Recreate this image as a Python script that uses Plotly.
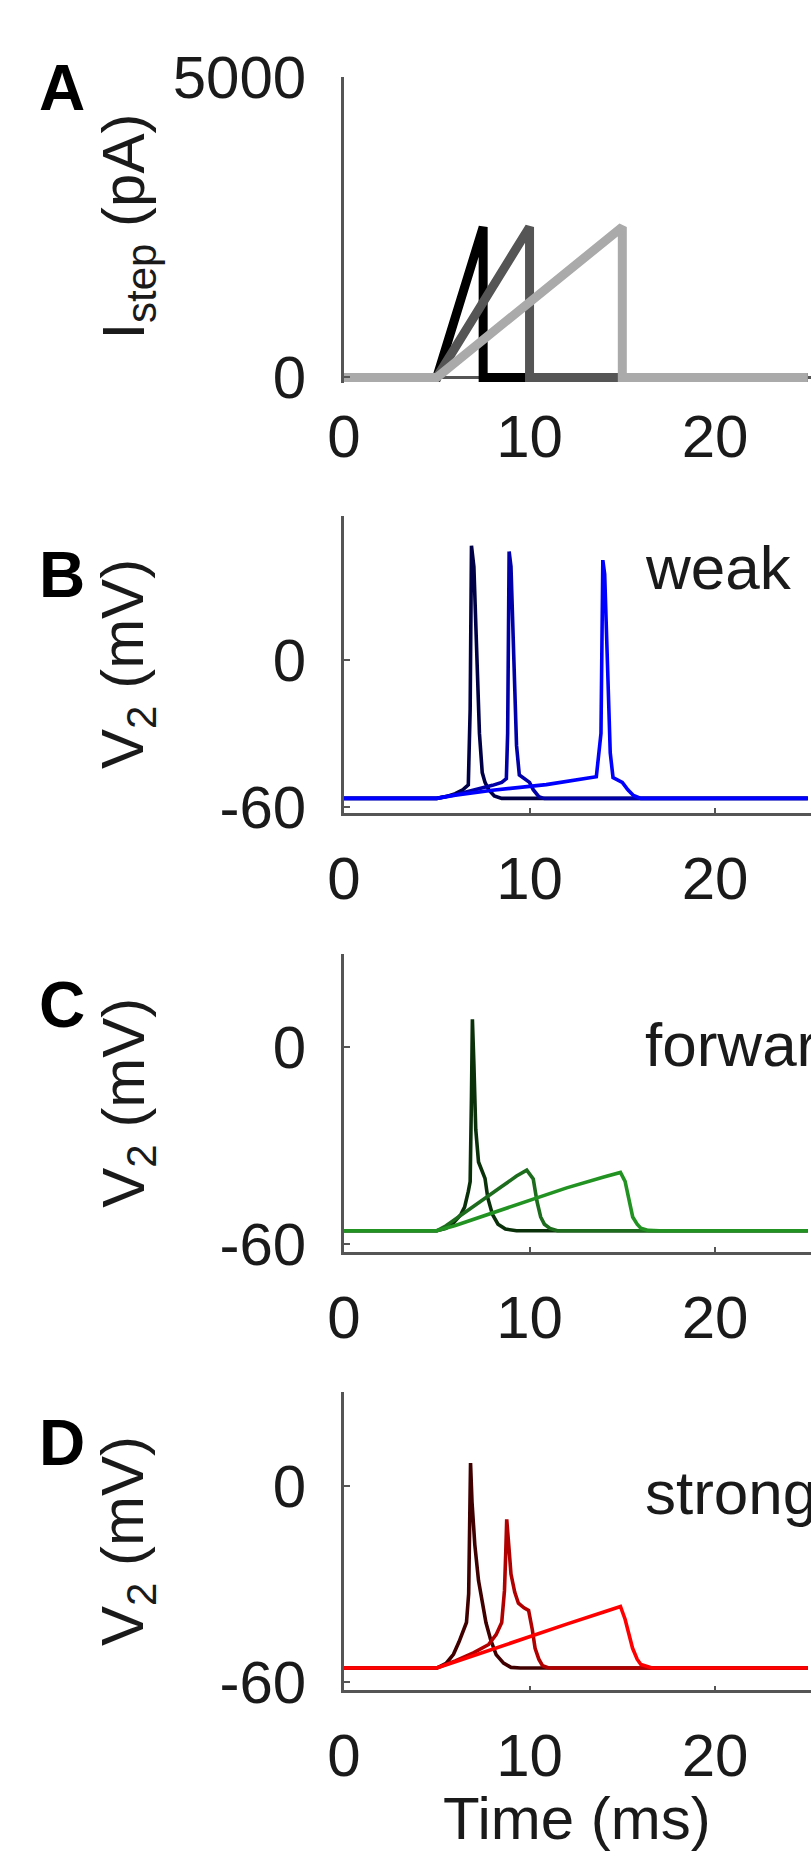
import plotly.graph_objects as go

# ---------------- data ----------------
# Panel A: current ramps (pA)
A_t1 = [0, 5, 7.5, 7.5, 25]
A_i1 = [0, 0, 2500, 0, 0]
A_t2 = [0, 5, 10, 10, 25]
A_i2 = [0, 0, 2500, 0, 0]
A_t3 = [0, 5, 15, 15, 25]
A_i3 = [0, 0, 2500, 0, 0]

# Panel B: weak (mV)
B_t1 = [0, 5, 5.5, 6.0, 6.4, 6.7, 6.8, 6.87, 7.0, 7.15, 7.3, 7.45, 7.6, 7.8, 8.1, 8.5, 25]
B_v1 = [-56.5, -56.5, -55.8, -54.6, -53, -51, -20, 46.6, 38, 0, -30, -46, -50, -53, -55.5, -56.5, -56.5]
B_t2 = [0, 5, 6, 7, 8, 8.5, 8.75, 8.82, 8.9, 9.0, 9.15, 9.3, 9.45, 9.7, 10.0, 10.2, 10.5, 10.8, 25]
B_v2 = [-56.5, -56.5, -55, -53.2, -51.2, -50, -48.5, -30, 44.2, 38, 0, -35, -47, -48.5, -50, -53, -55.8, -56.6, -56.5]
B_t3 = [0, 5, 6, 8, 10.9, 12.5, 13.6, 13.85, 13.95, 14.05, 14.2, 14.35, 14.5, 15.0, 15.3, 15.6, 16.0, 25]
B_v3 = [-56.5, -56.5, -55.2, -53.2, -50.9, -49.2, -47.7, -30, 40.7, 35, 0, -38, -48, -50, -53, -55.3, -56.5, -56.5]

# Panel C: forward (mV)
C_t1 = [0, 5, 5.5, 5.9, 6.3, 6.5, 6.7, 6.8, 6.87, 6.92, 7.0, 7.1, 7.25, 7.5, 7.6, 7.75, 8.0, 8.3, 8.7, 9.3, 25]
C_v1 = [-56, -56, -55.3, -53.6, -51, -48.8, -44, -41, -15, 8.6, -5, -25, -35, -38.9, -40, -46, -51, -54, -55.5, -56, -56]
C_t2 = [0, 5, 5.5, 6.5, 7.5, 8.5, 9.3, 9.85, 10.2, 10.4, 10.6, 10.8, 11.1, 11.5, 25]
C_v2 = [-56, -56, -54.5, -50.6, -46.5, -42.5, -39.3, -37.5, -40.2, -47, -51.8, -54, -55.3, -56, -56]
C_t3 = [0, 5, 6, 8, 10, 12, 14, 14.9, 15.15, 15.35, 15.56, 15.8, 16.0, 16.4, 17, 25]
C_v3 = [-56, -56, -54.4, -50.5, -46.7, -42.9, -39.6, -38.2, -40.9, -46.5, -51.8, -54, -55.2, -55.9, -56, -56]

# Panel D: strong (mV)
D_t1 = [0, 5, 5.5, 5.9, 6.2, 6.45, 6.6, 6.72, 6.82, 6.9, 7.05, 7.25, 7.45, 7.65, 7.9, 8.2, 8.6, 9.0, 9.5, 25]
D_v1 = [-55.7, -55.7, -54.3, -51.5, -47.7, -44, -41.8, -33, 6.9, -5, -18, -29, -36, -41.8, -47, -51.6, -54.2, -55.5, -55.7, -55.7]
D_t2 = [0, 5, 6, 7, 7.8, 8.2, 8.5, 8.65, 8.72, 8.77, 8.85, 9.0, 9.2, 9.4, 9.7, 9.95, 10.15, 10.3, 10.5, 10.7, 11.0, 11.3, 25]
D_v2 = [-55.7, -55.7, -53.5, -51, -48.5, -45.5, -41.8, -32, -20, -10.3, -16, -27, -32.5, -35.9, -37.3, -38.1, -44, -49.7, -53, -55, -55.6, -55.7, -55.7]
D_t3 = [0, 5, 6, 8, 10, 12, 14, 14.9, 15.15, 15.35, 15.55, 15.8, 16.0, 16.6, 25]
D_v3 = [-55.7, -55.7, -53.8, -49.9, -46.1, -42.3, -38.6, -36.9, -40.8, -45.5, -49.6, -53, -54.6, -55.7, -55.7]

x_ticks = [0, 10, 20]
x_tick_text = ["0", "10", "20"]
A_yticks = [0, 5000]
A_ytext = ["0", "5000"]
V_yticks = [-60, 0]
V_ytext = ["-60", "0"]
panel_letters = ["A", "B", "C", "D"]
panel_notes = [None, "weak", "forward", "strong"]

# ---------------- styling ----------------
W, H = 811, 1876
FONT = "Liberation Sans, Arial, Helvetica, sans-serif"
AXC = "#555555"
TXT = "#1a1a1a"

gray_cols = ["#000000", "#555555", "#aaaaaa"]
blue_cols = ["#000046", "#0000a8", "#0000ff"]
green_cols = ["#0a300a", "#1d6b1d", "#229322"]
red_cols = ["#400000", "#b00000", "#ff0000"]

# pixel geometry of the four panels (top, bottom in px)
geom = [(45, 362), (499, 806), (952, 1260), (1405, 1713)]
yranges = [[-96, 5000], [-62.4, 58.8], [-62.5, 28.5], [-62.5, 28.5]]
x_left_px = 334
xrange_ = [0, 25.17]

def py(p):
    return 1 - p / H

fig = go.Figure()

series = [
    [(A_t1, A_i1), (A_t2, A_i2), (A_t3, A_i3)],
    [(B_t1, B_v1), (B_t2, B_v2), (B_t3, B_v3)],
    [(C_t1, C_v1), (C_t2, C_v2), (C_t3, C_v3)],
    [(D_t1, D_v1), (D_t2, D_v2), (D_t3, D_v3)],
]
colors = [gray_cols, blue_cols, green_cols, red_cols]
widths = [9, 3.6, 3.6, 3.6]

for k in range(4):
    xa = "x" if k == 0 else f"x{k+1}"
    ya = "y" if k == 0 else f"y{k+1}"
    for j, (t, v) in enumerate(series[k]):
        fig.add_trace(go.Scatter(x=t, y=v, mode="lines", xaxis=xa, yaxis=ya,
                                 line=dict(color=colors[k][j], width=widths[k]),
                                 hoverinfo="skip", showlegend=False))

layout = dict(
    width=W, height=H,
    margin=dict(l=0, r=0, t=0, b=0),
    paper_bgcolor="white", plot_bgcolor="white",
    showlegend=False,
    font=dict(family=FONT, color=TXT, size=60),
)

annotations = []
for k in range(4):
    top, bot = geom[k]
    xkey = "xaxis" if k == 0 else f"xaxis{k+1}"
    ykey = "yaxis" if k == 0 else f"yaxis{k+1}"
    xa = "x" if k == 0 else f"x{k+1}"
    ya = "y" if k == 0 else f"y{k+1}"
    first = (k == 0)
    layout[xkey] = dict(
        domain=[x_left_px / W, 1.0], range=xrange_, anchor=ya,
        showline=not first, linecolor=AXC, linewidth=2.5,
        ticks="" if first else "inside", ticklen=5, tickwidth=2, tickcolor=AXC,
        tickvals=x_ticks, ticktext=x_tick_text,
        tickfont=dict(size=60, family=FONT, color=TXT),
        ticklabelstandoff=13 if first else 11,
        showgrid=False, zeroline=False, fixedrange=True,
    )
    layout[ykey] = dict(
        domain=[py(bot), py(top)], range=yranges[k], anchor=xa,
        showline=True, linecolor=AXC, linewidth=2.5,
        ticks="inside", ticklen=6, tickwidth=2, tickcolor=AXC,
        tickvals=A_yticks if first else V_yticks,
        ticktext=A_ytext if first else V_ytext,
        tickfont=dict(size=60, family=FONT, color=TXT),
        ticklabelstandoff=23,
        showgrid=False, zeroline=first, zerolinecolor=AXC, zerolinewidth=2.5,
        fixedrange=True,
    )
    # panel letter
    letter_y = [57, 560, 1005, 1457][k]
    annotations.append(dict(text=f"<b>{panel_letters[k]}</b>", x=46 / W, y=py(letter_y),
                            xref="paper", yref="paper", xanchor="center", yanchor="middle",
                            showarrow=False, font=dict(size=64, family=FONT, color="#000000")))
    # y title
    ytitle = "I<sub>step</sub> (pA)" if first else "V<sub>2</sub> (mV)"
    annotations.append(dict(text=ytitle, textangle=-90, x=113 / W, y=py((top + (356 if first else bot)) / 2),
                            xref="paper", yref="paper", xanchor="center", yanchor="middle",
                            showarrow=False, font=dict(size=60, family=FONT, color=TXT)))
    if panel_notes[k]:
        note_y = [None, 552, 1046, 1509][k]
        annotations.append(dict(text=panel_notes[k], x=639 / W, y=py(note_y),
                                xref="paper", yref="paper", xanchor="left", yanchor="middle",
                                showarrow=False, font=dict(size=62, family=FONT, color=TXT)))

# x-axis title for the bottom panel
annotations.append(dict(text="Time (ms)", x=(x_left_px + 19 * 12.5) / W, y=py(1846),
                        xref="paper", yref="paper", xanchor="center", yanchor="middle",
                        showarrow=False, font=dict(size=60, family=FONT, color=TXT)))

layout["annotations"] = annotations
fig.update_layout(**layout)
fig.write_html("out.html")
